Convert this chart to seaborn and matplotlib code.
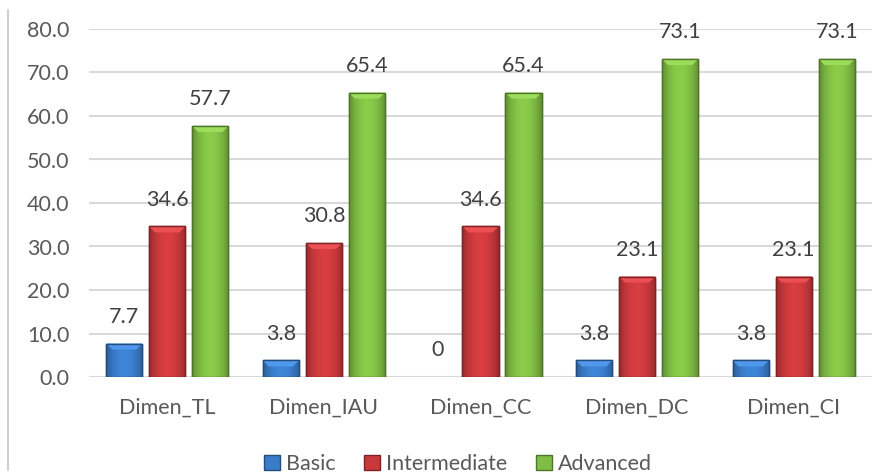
import numpy as np
import pandas as pd
import matplotlib
matplotlib.use("Agg")
import matplotlib.pyplot as plt
import matplotlib.colors as mcolors
from matplotlib.patches import Polygon, Patch
from matplotlib.lines import Line2D
import seaborn as sns

categories = ["Dimen_TL", "Dimen_IAU", "Dimen_CC", "Dimen_DC", "Dimen_CI"]
levels = ["Basic", "Intermediate", "Advanced"]
basic = [7.7, 3.8, 0.0, 3.8, 3.8]
intermediate = [34.6, 30.8, 34.6, 23.1, 23.1]
advanced = [57.7, 65.4, 65.4, 73.1, 73.1]
y_ticks = [0, 10, 20, 30, 40, 50, 60, 70, 80]

colors = {"Basic": "#3a7cc9", "Intermediate": "#c9393c", "Advanced": "#80bd44"}
text_color = "#595959"
grid_color = "#d9d9d9"

df = pd.DataFrame({
    "category": categories * 3,
    "level": [lv for lv in levels for _ in categories],
    "value": basic + intermediate + advanced,
})

sns.set_theme(style="white")
plt.rcParams["font.family"] = ["Lato", "DejaVu Sans"]

fig = plt.figure(figsize=(8.94, 4.73), dpi=100)
ax = fig.add_axes([89 / 894, 1 - 377 / 473, (872 - 89) / 894, (377 - 29) / 473])

sns.barplot(data=df, x="category", y="value", hue="level", hue_order=levels,
            palette=colors, width=0.824, gap=0.16, legend=False, ax=ax,
            errorbar=None, zorder=3)

ax.set_xlim(-0.5, 4.5)
ax.set_ylim(0, 80)
ax.set_yticks(y_ticks)
ax.set_yticklabels([f"{t:.1f}" for t in y_ticks])
ax.yaxis.grid(True, color=grid_color, linewidth=1.5, zorder=0)
ax.set_axisbelow(True)
for s in ax.spines.values():
    s.set_visible(False)
ax.set_xlabel("")
ax.set_ylabel("")
ax.tick_params(axis="both", length=0, labelsize=15.5, labelcolor=text_color)
ax.tick_params(axis="y", pad=14)
ax.tick_params(axis="x", pad=15)

# shaded, bevelled look for each bar
fig.canvas.draw()
px_to_data = ax.transData.inverted()
origin = px_to_data.transform((0, 0))
bevel_dx = px_to_data.transform((6, 0))[0] - origin[0]
bevel_dy = px_to_data.transform((0, 6))[1] - origin[1]

profile = np.linspace(-1, 1, 64)
shade = 1.08 - 0.32 * profile ** 2
for container, lv in zip(ax.containers, levels):
    base = np.array(mcolors.to_rgb(colors[lv]))
    dark = base * 0.62
    for bar in container:
        h = bar.get_height()
        if h <= 0:
            bar.set_visible(False)
            continue
        x0, w = bar.get_x(), bar.get_width()
        bar.set_edgecolor(dark)
        bar.set_linewidth(1.0)
        img = np.clip(base[None, :] * shade[:, None], 0, 1)[None, :, :]
        im = ax.imshow(img, extent=(x0, x0 + w, 0, h), aspect="auto",
                       interpolation="bilinear", zorder=3.5)
        im.set_clip_path(bar)
        bev = min(bevel_dy, h * 0.45)
        top = Polygon([(x0, h), (x0 + w, h), (x0 + w - bevel_dx, h - bev),
                       (x0 + bevel_dx, h - bev)], closed=True,
                      facecolor=np.clip(base * 1.08 + 0.07, 0, 1),
                      edgecolor="none", zorder=3.6)
        ax.add_patch(top)
        edge = plt.Rectangle((x0, 0), w, h, facecolor="none", edgecolor=dark,
                             linewidth=1.0, zorder=3.7)
        ax.add_patch(edge)

ax.set_xlim(-0.5, 4.5)
ax.set_ylim(0, 80)

# value labels
for container, vals in zip(ax.containers, [basic, intermediate, advanced]):
    labels = ["0" if v == 0 else f"{v:.1f}" for v in vals]
    ax.bar_label(container, labels=labels, padding=12, fontsize=15.5,
                 color="#404040", zorder=5)

# chart-area left border
fig.add_artist(Line2D([8 / 894, 8 / 894], [1 - 10 / 473, 1 - 470 / 473],
                      transform=fig.transFigure, color="#d0d0d0", linewidth=1.5))

handles = [Patch(facecolor=colors[lv], edgecolor=np.array(mcolors.to_rgb(colors[lv])) * 0.62,
                 label=lv) for lv in levels]
fig.legend(handles=handles, loc="center", bbox_to_anchor=(458 / 894, 1 - 464 / 473),
           ncol=3, frameon=False, fontsize=15.5, handlelength=0.75, handleheight=0.75,
           handletextpad=0.3, columnspacing=1.3, labelcolor=text_color)

fig.savefig("out.png", dpi=100)
